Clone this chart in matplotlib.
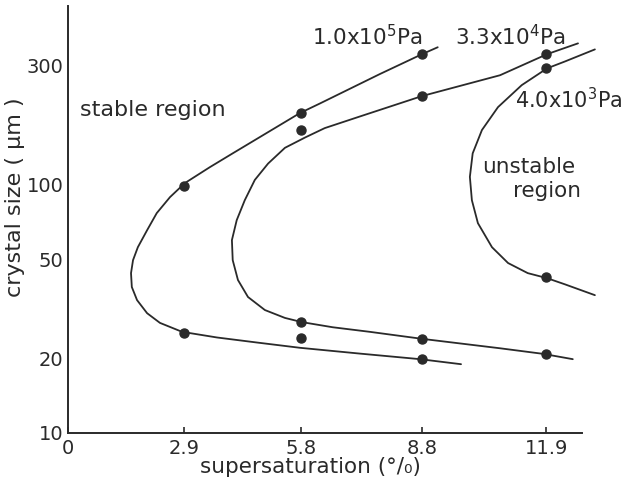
import numpy as np
import matplotlib.pyplot as plt
from matplotlib.ticker import FixedLocator, NullLocator

# measured points (supersaturation %, crystal size um)
ss_hi = [2.9, 5.8, 8.8, 2.9, 5.8, 8.8]
size_hi = [98, 193, 333, 25.2, 24.1, 19.8]

ss_mid = [5.8, 8.8, 11.9, 5.8, 8.8, 11.9]
size_mid = [165, 226, 333, 27.9, 23.9, 20.8]

ss_lo = [11.9, 11.9]
size_lo = [292, 42.3]

# hand-drawn boundary curves
curve_hi_x = [9.20, 8.81, 7.76, 6.27, 5.77, 4.10, 3.53, 2.91, 2.54, 2.21, 1.97,
              1.74, 1.62, 1.57, 1.59, 1.72, 1.97, 2.29, 2.84, 3.71, 4.70, 5.77,
              7.26, 8.76, 9.78]
curve_hi_y = [355, 333, 277, 211, 193, 133, 117, 101, 88.7, 76.5, 65.3,
              55.8, 49.5, 43.9, 38.6, 34.2, 30.3, 27.7, 25.5, 24.2, 23.1, 22.0,
              20.85, 19.8, 18.9]

curve_mid_x = [12.69, 11.92, 10.75, 8.81, 7.26, 6.39, 5.90, 5.40, 4.98, 4.65,
               4.40, 4.20, 4.08, 4.10, 4.23, 4.48, 4.90, 5.40, 5.82, 6.59,
               7.51, 8.81, 10.75, 11.82, 12.56]
curve_mid_y = [368, 333, 274, 226, 187, 168, 154, 140, 121, 104,
               86.2, 71.7, 59.6, 49.5, 41.2, 35.2, 31.2, 29.0, 27.9, 26.6,
               25.5, 23.9, 21.9, 20.8, 19.8]

curve_lo_x = [13.11, 12.36, 11.92, 11.29, 10.70, 10.30, 10.07, 10.00, 10.05,
              10.20, 10.55, 10.95, 11.44, 11.92, 12.36, 13.11]
curve_lo_y = [348, 311, 292, 250, 204, 165, 133, 107, 86.2,
              69.7, 55.8, 48.2, 43.9, 41.9, 39.6, 35.8]

xticks = [0, 2.9, 5.8, 8.8, 11.9]
yticks = [10, 20, 50, 100, 300]

fig = plt.figure(figsize=(6.23, 4.84), dpi=100)
ax = fig.add_axes([0.109, 0.1054, 0.862, 0.8822])
ink = '#2a2a2a'

for cx, cy in [(curve_hi_x, curve_hi_y), (curve_mid_x, curve_mid_y),
               (curve_lo_x, curve_lo_y)]:
    ax.plot(cx, cy, color=ink, lw=1.3, solid_joinstyle='round',
            solid_capstyle='round')

ax.plot(ss_hi, size_hi, 'o', color=ink, ms=6.5)
ax.plot(ss_mid, size_mid, 'o', color=ink, ms=6.5)
ax.plot(ss_lo, size_lo, 'o', color=ink, ms=6.5)

ax.set_yscale('log')
ax.set_xlim(0, 13.36)
ax.set_ylim(10, 520)
ax.spines['bottom'].set_bounds(0, 12.79)
for s in ['top', 'right']:
    ax.spines[s].set_visible(False)
for s in ['left', 'bottom']:
    ax.spines[s].set_linewidth(1.4)
    ax.spines[s].set_color(ink)

ax.xaxis.set_major_locator(FixedLocator(xticks))
ax.set_xticklabels(['0', '2.9', '5.8', '8.8', '11.9'])
ax.yaxis.set_major_locator(FixedLocator(yticks))
ax.yaxis.set_minor_locator(NullLocator())
ax.set_yticklabels([str(v) for v in yticks])
ax.tick_params(axis='x', direction='in', length=4, width=1.2, color=ink,
               labelsize=14, labelcolor=ink, pad=4)
ax.tick_params(axis='y', length=0, labelsize=14, labelcolor=ink, pad=3)

ax.set_xlabel('supersaturation (°/₀)', fontsize=15.5, color=ink)
ax.xaxis.label.set_va('center')
ax.xaxis.set_label_coords(0.452, -0.08)
ax.set_ylabel('crystal size ( μm )', fontsize=16, color=ink)
ax.yaxis.label.set_va('center')
ax.yaxis.set_label_coords(-0.099, 0.553)

fs = 15.5
ax.text(0.3, 198, 'stable region', fontsize=16, color=ink, va='center')
ax.text(10.3, 117, 'unstable', fontsize=fs, color=ink, va='center')
ax.text(11.07, 94, 'region', fontsize=fs, color=ink, va='center')
ax.text(6.07, 390, '1.0x10$^{5}$Pa', fontsize=fs, color=ink, va='center')
ax.text(9.63, 390, '3.3x10$^{4}$Pa', fontsize=fs, color=ink, va='center')
ax.text(11.12, 218, '4.0x10$^{3}$Pa', fontsize=15, color=ink, va='center')

fig.savefig('out.png', dpi=100)
